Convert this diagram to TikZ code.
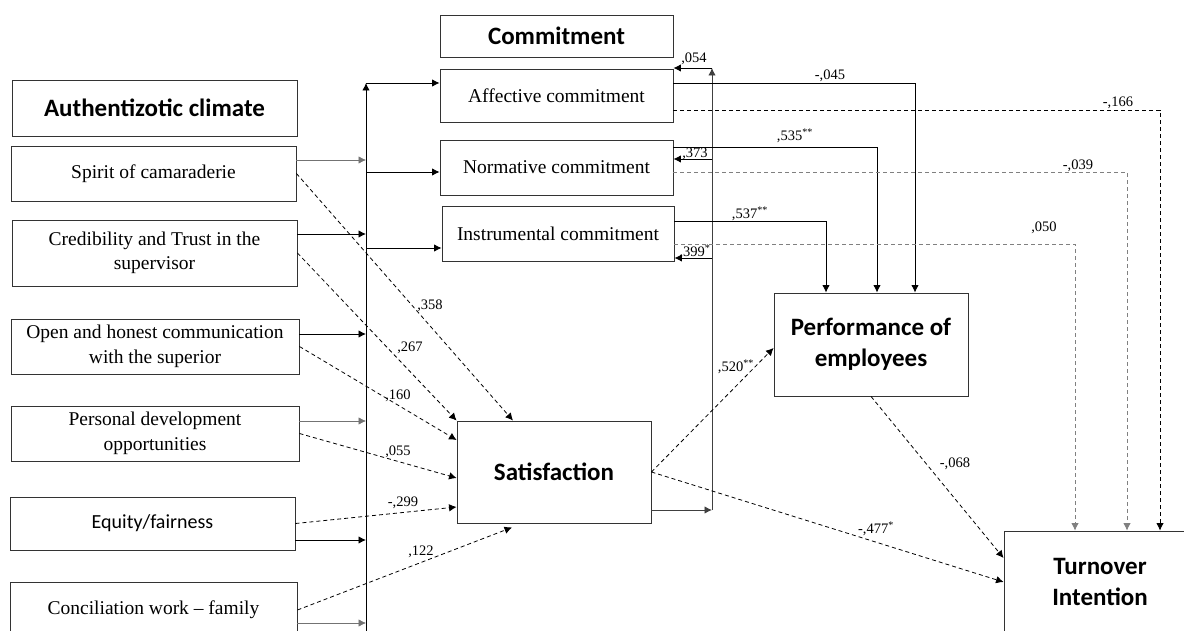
\documentclass[tikz,border=0pt]{standalone}
\usepackage{fontspec}
\setmainfont{Liberation Serif}
\newfontfamily\headfont{Carlito}
\usetikzlibrary{arrows.meta,calc}

\begin{document}
\begin{tikzpicture}[x=1pt, y=-1pt,
  box/.style={draw=black!80, line width=0.9pt, align=center, inner sep=2pt,
    font=\fontsize{19.5}{24.5}\selectfont},
  hbox/.style={box, font=\headfont\bfseries\fontsize{25}{31}\selectfont},
  arr/.style={-{Latex[length=7.5pt,width=7.5pt]}, line width=0.9pt},
  lite/.style={arr, black!55, line width=0.7pt},
  dsh/.style={arr, dash pattern=on 4pt off 3pt, line width=0.8pt},
  ldsh/.style={dsh, black!50},
  lbl/.style={font=\fontsize{14.5}{16}\selectfont, inner sep=0pt}
]
\useasboundingbox (0,0) rectangle (1184,631);
\clip (0,0) rectangle (1184,631);
% authentizotic climate
\node[hbox, minimum width=285, minimum height=56] (auth) at (154.5,108) {Authentizotic climate};
\node[box, minimum width=285, minimum height=55] (spirit) at (153.5,173.5) {Spirit of camaraderie};
\node[box, minimum width=285, minimum height=66] (cred) at (154.5,253) {Credibility and Trust in the\\supervisor};
\node[box, minimum width=288, minimum height=55] (open) at (155,346.5) {Open and honest communication\\with the superior};
\node[box, minimum width=288, minimum height=55] (pers) at (155,433.5) {Personal development\\opportunities};
\node[box, minimum width=285, minimum height=53, font=\headfont\fontsize{20}{24}\selectfont] (equity) at (152.5,523.5) {Equity/fairness};
\node[box, minimum width=287, minimum height=56] (concil) at (153.5,610) {Conciliation work – family};
% commitment
\node[hbox, minimum width=233, minimum height=42] (commit) at (556.5,36) {Commitment};
\node[box, minimum width=233, minimum height=53] (aff) at (556.5,95.5) {Affective commitment};
\node[box, minimum width=233, minimum height=55] (norm) at (556.5,167.5) {Normative commitment};
\node[box, minimum width=232, minimum height=55] (instr) at (558,233.5) {Instrumental commitment};
% outcomes
\node[hbox, minimum width=194, minimum height=102] (sat) at (554,472) {Satisfaction};
\node[hbox, minimum width=194, minimum height=103] (perf) at (871,344.5) {Performance of\\employees};
\node[hbox, minimum width=192, minimum height=102] (turn) at (1100,582) {Turnover\\Intention};

\coordinate (busT) at (366,83);
\coordinate (busB) at (366,632);
\coordinate (satB) at (712,510);
\coordinate (satT) at (712,68);

% climate -> commitment
\draw[lite] (spirit.east |- 0,160) -- (busT |- 0,160);
\draw[arr] (cred.east |- 0,234) -- (busT |- 0,234);
\draw[arr] (open.east |- 0,334) -- (busT |- 0,334);
\draw[lite] (pers.east |- 0,421) -- (busT |- 0,421);
\draw[arr] (equity.east |- 0,540) -- (busT |- 0,540);
\draw[lite] (concil.east |- 0,623) -- (busT |- 0,623);
\draw[arr] (busB) -- (busT);
\draw[arr] (busT) -- (aff.west |- busT);
\draw[arr] (busT |- 0,172) -- (norm.west |- 0,172);
\draw[arr] (busT |- 0,248) -- (instr.west |- 0,248);

% climate -> satisfaction
\draw[dsh] (spirit.east) -- ([xshift=-41pt]sat.north);
\draw[dsh] (cred.east) -- (sat.north west);
\draw[dsh] (open.east) -- ([yshift=32pt]sat.west);
\draw[dsh] (pers.east) -- ([yshift=-6pt]sat.west);
\draw[dsh] (equity.east) -- ([yshift=-35pt]sat.west);
\draw[dsh] (concil.east) -- ([xshift=-42pt,yshift=-4pt]sat.south);
\node[lbl] (w358) at (430,306) {,358};
\node[lbl] (w267) at (410,348) {,267};
\node[lbl] (w160) at (398,396) {,160};
\node[lbl] (w055) at (398,452) {,055};
\node[lbl] (w299) at (403,503) {-,299};
\node[lbl] (w122) at (421,552) {,122};

% satisfaction -> commitment
\draw[arr, black!75] (sat.east |- satB) -- (satB);
\draw[arr, black!75] (satB) -- (satT);
\draw[arr] (satT) -- (aff.east |- satT);
\draw[arr] (satT |- 0,159) -- (norm.east |- 0,159);
\draw[arr] (satT |- 0,258) -- (instr.east |- 0,258);
\node[lbl] (w054) at (694,59) {,054};
\node[lbl] (w373) at (695,154) {,373};
\node[lbl] (w399) at (695,252) {,399\textsuperscript{*}};

% commitment -> performance / turnover
\draw[arr] (aff.east |- 0,83) -| ([xshift=44pt]perf.north);
\draw[arr] (norm.east |- 0,147) -| ([xshift=6pt]perf.north);
\draw[arr] (instr.east |- 0,221) -| ([xshift=-45pt]perf.north);
\draw[dsh] (aff.east |- 0,110) -| ([xshift=60pt]turn.north);
\draw[ldsh] (norm.east |- 0,172) -| ([xshift=27pt]turn.north);
\draw[ldsh] (instr.east |- 0,244) -| ([xshift=-25pt]turn.north);
\node[lbl] (w045) at (830,76) {-,045};
\node[lbl] (w535) at (795,136) {,535\textsuperscript{**}};
\node[lbl] (w537) at (750,214) {,537\textsuperscript{**}};
\node[lbl] (w166) at (1118,103) {-,166};
\node[lbl] (w039) at (1078,166) {-,039};
\node[lbl] (w050) at (1044,228) {,050};

% satisfaction / performance -> turnover
\draw[dsh] (sat.east) -- ([yshift=-3.5pt]perf.west);
\draw[dsh] (sat.east) -- (turn.west);
\draw[dsh] (perf.south) -- ([yshift=24pt]turn.west);
\node[lbl] (w520) at (736,367) {,520\textsuperscript{**}};
\node[lbl] (w477) at (876,529) {-,477\textsuperscript{*}};
\node[lbl] (w068) at (955,464) {-,068};
\end{tikzpicture}
\end{document}
